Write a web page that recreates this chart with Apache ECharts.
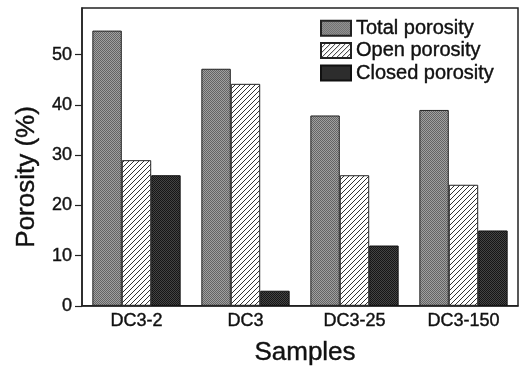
<!DOCTYPE html>
<html>
<head>
<meta charset="utf-8">
<script src="https://cdn.jsdelivr.net/npm/echarts@6/dist/echarts.min.js"></script>
<style>
  html, body { margin: 0; padding: 0; background: #fff; }
  #chart { width: 521px; height: 371px; }
</style>
</head>
<body>
<div id="chart"></div>
<script>
// samples and porosity values (%)
var samples = ['DC3-2', 'DC3', 'DC3-25', 'DC3-150'];
var totalPorosity = [54.8, 47.2, 37.9, 39.0];
var openPorosity = [29.0, 44.2, 26.0, 24.1];
var closedPorosity = [26.0, 3.0, 12.0, 15.0];
var yTicks = [0, 10, 20, 30, 40, 50];

// little texture tiles to look like the printed fills
function stipple(light, dark) {
    var c = document.createElement('canvas');
    c.width = 4; c.height = 4;
    var g = c.getContext('2d');
    for (var i = 0; i < 4; i++) {
        for (var j = 0; j < 4; j++) {
            g.fillStyle = ((i + j) % 2 === 0) ? dark : light;
            g.fillRect(i, j, 1, 1);
        }
    }
    return { image: c, repeat: 'repeat' };
}

function hatch() {
    var c = document.createElement('canvas');
    c.width = 5; c.height = 5;
    var g = c.getContext('2d');
    g.fillStyle = '#fff';
    g.fillRect(0, 0, 5, 5);
    g.strokeStyle = '#333';
    g.lineWidth = 1;
    g.beginPath();
    g.moveTo(-1, 6); g.lineTo(6, -1);
    g.moveTo(-1, 1); g.lineTo(1, -1);
    g.moveTo(4, 6); g.lineTo(6, 4);
    g.stroke();
    return { image: c, repeat: 'repeat' };
}

var chart = echarts.init(document.getElementById('chart'));

var font = '"Liberation Sans", Arial, sans-serif';
// slight outline so the text reads as heavy as the scanned original
var heavy = { fontFamily: font, color: '#111', textBorderColor: '#111', textBorderWidth: 0.4 };

option = {
    animation: false,
    grid: {
        left: 82, right: 3, top: 8, bottom: 51,
        show: true,
        borderColor: '#222',
        borderWidth: 1.5
    },
    legend: {
        orient: 'vertical',
        left: 320,
        top: 18,
        padding: 0,
        icon: 'rect',
        itemWidth: 30,
        itemHeight: 15,
        itemGap: 2,
        textStyle: Object.assign({ fontSize: 20, padding: [0, 0, 0, 0] }, heavy),
        data: ['Total porosity', 'Open porosity', 'Closed porosity']
    },
    xAxis: {
        type: 'category',
        data: samples,
        name: 'Samples',
        nameLocation: 'middle',
        nameGap: 34,
        nameTextStyle: Object.assign({ fontSize: 26, padding: [0, 0, 0, 10] }, heavy),
        axisLine: { lineStyle: { color: '#222', width: 1.5 } },
        axisTick: { show: false },
        axisLabel: Object.assign({ fontSize: 18, margin: 6 }, heavy)
    },
    yAxis: {
        type: 'value',
        min: yTicks[0],
        max: 59.3,
        interval: 10,
        name: 'Porosity (%)',
        nameLocation: 'middle',
        nameGap: 42,
        nameTextStyle: Object.assign({ fontSize: 26, padding: [0, 40, 0, 0] }, heavy),
        axisLine: { show: true, lineStyle: { color: '#222', width: 1.5 } },
        axisTick: { show: true, length: 7, lineStyle: { color: '#222', width: 1.2 } },
        splitLine: { show: false },
        axisLabel: Object.assign({ fontSize: 18, margin: 10, showMaxLabel: false }, heavy)
    },
    series: [
        {
            name: 'Total porosity',
            type: 'bar',
            barGap: '0%',
            barCategoryGap: '19%',
            data: totalPorosity,
            itemStyle: { color: stipple('#a0a0a0', '#646464'), borderColor: '#222', borderWidth: 1 }
        },
        {
            name: 'Open porosity',
            type: 'bar',
            data: openPorosity,
            itemStyle: { color: hatch(), borderColor: '#222', borderWidth: 1 }
        },
        {
            name: 'Closed porosity',
            type: 'bar',
            data: closedPorosity,
            itemStyle: { color: stipple('#444444', '#161616'), borderColor: '#111', borderWidth: 1 }
        }
    ]
};

chart.setOption(option);
</script>
</body>
</html>
